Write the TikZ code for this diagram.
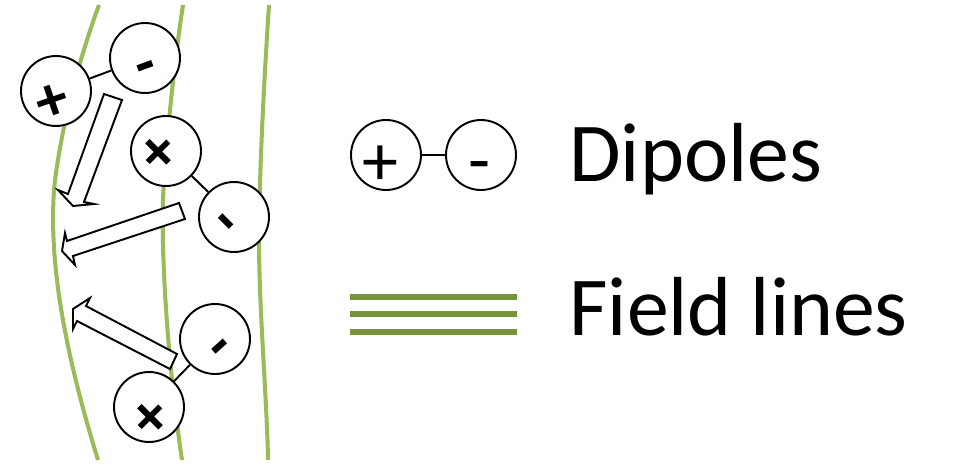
\documentclass[tikz,border=0pt]{standalone}
\usepackage{fontspec}
\setmainfont{Carlito}
\definecolor{fieldgreen}{HTML}{9BBB59}
\definecolor{legendgreen}{HTML}{77933C}
\tikzset{
  pole/.style={circle, draw=black, fill=white, line width=1.1pt, minimum size=1.4cm, inner sep=0pt},
  signmark/.style={font=\fontsize{41}{41}\selectfont, inner sep=0pt, text=black},
  signbold/.style={font=\fontsize{36}{36}\selectfont\bfseries, inner sep=0pt, text=black},
  bond/.style={draw=black, line width=1.1pt},
  fieldline/.style={draw=fieldgreen, line width=2.3pt},
  legendline/.style={draw=legendgreen, line width=3pt},
  blockarrow/.style={draw=black, fill=white, line width=1.1pt, line join=miter},
  legendtext/.style={font=\fontsize{47.7}{47.7}\selectfont, anchor=base west, inner sep=0pt}
}
\begin{document}
\begin{tikzpicture}[x=0.02cm, y=-0.02cm]
  \useasboundingbox (0,0) rectangle (967,466);

  % field lines
  \draw[fieldline] (99,5) .. controls (80,56) and (60,130) .. (54,190) .. controls (50,250) and (58,330) .. (98,460);
  \draw[fieldline] (183,5) .. controls (175,56) and (165,150) .. (163,200) .. controls (161,270) and (170,380) .. (182,460);
  \draw[fieldline] (269,5) .. controls (264,80) and (259,180) .. (259,240) .. controls (259,310) and (267,400) .. (268,460);

  % block arrows
  \draw[blockarrow] (104,94) -- (122,100) -- (84,202) -- (94,204) -- (73,206) -- (58,190) -- (68,194) -- cycle;
  \draw[blockarrow] (179,203) -- (185,219) -- (73,256) -- (75,265) -- (62,251) -- (65,233) -- (67,241) -- cycle;
  \draw[blockarrow] (177,354) -- (170,369) -- (77,321) -- (73,329) -- (73,309) -- (90,298) -- (86,306) -- cycle;

  % dipoles
  \node[pole] (plusA) at (56,91) {};
  \node[pole] (minusA) at (145,58) {};
  \node[pole] (plusB) at (166,151) {};
  \node[pole] (minusB) at (234,217) {};
  \node[pole] (plusC) at (149,407) {};
  \node[pole] (minusC) at (215,339) {};
  \node[pole] (plusKey) at (386,155) {};
  \node[pole] (minusKey) at (481,155) {};

  \draw[bond] (plusA) -- (minusA);
  \draw[bond] (plusB) -- (minusB);
  \draw[bond] (plusC) -- (minusC);
  \draw[bond] (plusKey) -- (minusKey);

  \node[signbold, rotate=19] (signA) at (53,103) {+};
  \node[signbold, rotate=20] (signa) at (148,73) {-};
  \node[signbold, rotate=45] (signB) at (160,154) {+};
  \node[signbold, rotate=-45] (signb) at (221,227) {-};
  \node[signbold, rotate=45] (signC) at (152,419) {+};
  \node[signbold, rotate=42] (signc) at (225,352) {-};
  \node[signmark] (signKey) at (380,166) {+};
  \node[signmark] (signkey) at (480,173) {-};

  % legend
  \draw[legendline] (350,297) -- (517,297);
  \draw[legendline] (350,314) -- (517,314);
  \draw[legendline] (350,332) -- (517,332);

  \node[legendtext] (dipoles) at (569,181) {Dipoles};
  \node[legendtext] (field) at (569,335) {Field lines};
\end{tikzpicture}
\end{document}
